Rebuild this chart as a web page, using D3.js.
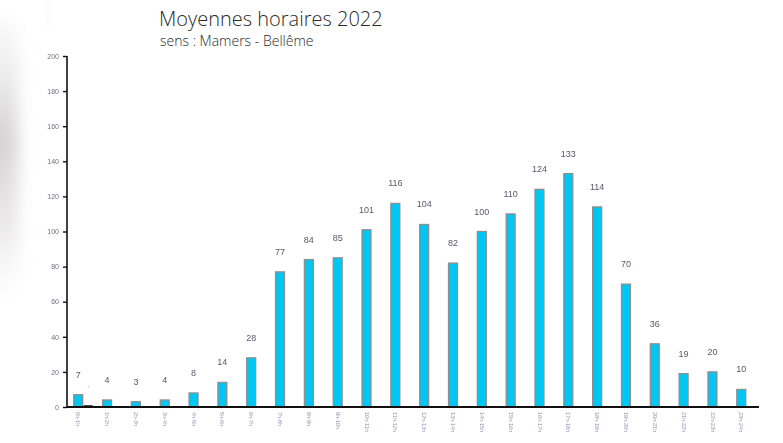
<!DOCTYPE html>
<html>
<head>
<meta charset="utf-8">
<script src="https://cdn.jsdelivr.net/npm/d3@7"></script>
<style>
  html, body { margin: 0; padding: 0; background: #fff; }
  svg { display: block; }
</style>
</head>
<body>
<svg id="chart" width="783" height="443"></svg>
<script>
// Hourly averages, direction Mamers -> Bellême
const hours = ["0h-1h","1h-2h","2h-3h","3h-4h","4h-5h","5h-6h","6h-7h","7h-8h","8h-9h","9h-10h","10h-11h","11h-12h",
               "12h-13h","13h-14h","14h-15h","15h-16h","16h-17h","17h-18h","18h-19h","19h-20h","20h-21h","21h-22h","22h-23h","23h-24h"];
const lightVehicles = [7, 4, 3, 4, 8, 14, 28, 77, 84, 85, 101, 116, 104, 82, 100, 110, 124, 133, 114, 70, 36, 19, 20, 10];
const heavyVehicles = [1, 0, 0, 0, 0, 0, 0, 0, 0, 0, 0, 0, 0, 0, 0, 0, 0, 0, 0, 0, 0, 0, 0, 0];
const yTicks = [0, 20, 40, 60, 80, 100, 120, 140, 160, 180, 200];

const svg = d3.select("#chart");
const defs = svg.append("defs");

// soft page shadow on the left edge
const blur = defs.append("filter").attr("id", "soft").attr("x", "-50%").attr("y", "-50%").attr("width", "200%").attr("height", "200%");
blur.append("feGaussianBlur").attr("stdDeviation", 8);
const sg = defs.append("linearGradient").attr("id", "shade").attr("x1", 0).attr("y1", 0).attr("x2", 0).attr("y2", 1);
sg.append("stop").attr("offset", "0").attr("stop-color", "#d8d8d8").attr("stop-opacity", 0.15);
sg.append("stop").attr("offset", "0.4").attr("stop-color", "#bdb9b9").attr("stop-opacity", 0.65);
sg.append("stop").attr("offset", "0.7").attr("stop-color", "#cdc9c9").attr("stop-opacity", 0.4);
sg.append("stop").attr("offset", "1").attr("stop-color", "#ffffff").attr("stop-opacity", 0);
svg.append("rect").attr("x", -20).attr("y", 20).attr("width", 38).attr("height", 300)
  .attr("fill", "url(#shade)").attr("filter", "url(#soft)");
svg.append("rect").attr("x", 47).attr("y", -5).attr("width", 4).attr("height", 30)
  .attr("fill", "#e9e9e9").attr("filter", "url(#soft)").attr("opacity", 0.5);

// titles
svg.append("text").attr("x", 159).attr("y", 26)
  .attr("font-family", "'Open Sans', Lato, sans-serif").attr("font-size", 20).attr("font-weight", 300)
  .attr("fill", "#2a2a2a").text("Moyennes horaires 2022");
svg.append("text").attr("x", 160).attr("y", 46)
  .attr("font-family", "'Open Sans', Lato, sans-serif").attr("font-size", 14).attr("font-weight", 300)
  .attr("fill", "#2a2a2a").text("sens : Mamers - Bellême");

const axisLeftX = 67, axisRightX = 759;
const y = d3.scaleLinear().domain([0, 200]).range([407, 56]);
const x = d3.scaleBand().domain(hours).range([68, 751.5]).paddingInner(0.69).paddingOuter(0.2);

const g = svg.append("g");

// y axis
const yAxis = g.append("g").attr("transform", `translate(${axisLeftX},0)`)
  .call(d3.axisLeft(y).tickValues(yTicks).tickSize(4).tickPadding(4));
yAxis.select(".domain").attr("stroke", "#111").attr("stroke-width", 1.6).attr("d", `M0,${y(200)}V${y(0)}`);
yAxis.selectAll(".tick line").attr("stroke", "#111").attr("stroke-width", 1.4);
yAxis.selectAll(".tick text").attr("font-family", "Liberation Sans, Arial, sans-serif")
  .attr("font-size", 7).attr("fill", "#555570").attr("opacity", 0.85);

// bars
g.selectAll("rect.bar").data(lightVehicles).join("rect").attr("class", "bar")
  .attr("x", (d, i) => x(hours[i]))
  .attr("y", d => y(d))
  .attr("width", x.bandwidth())
  .attr("height", d => y(0) - y(d))
  .attr("fill", "#00c6f4").attr("stroke", "#8f8f8f").attr("stroke-width", 1.3);

g.selectAll("rect.hv").data(heavyVehicles).join("rect").attr("class", "hv")
  .attr("x", (d, i) => x(hours[i]) + x.bandwidth() + 1)
  .attr("y", d => y(d))
  .attr("width", x.bandwidth())
  .attr("height", d => y(0) - y(d))
  .attr("fill", "#111");

// value labels
g.selectAll("text.val").data(lightVehicles).join("text").attr("class", "val")
  .attr("x", (d, i) => x(hours[i]) + x.bandwidth() / 2)
  .attr("y", d => y(d) - 17)
  .attr("text-anchor", "middle")
  .attr("font-family", "Liberation Sans, Arial, sans-serif").attr("font-size", 9)
  .attr("fill", "#3a3a50").attr("opacity", 0.85)
  .text(d => d);

g.selectAll("text.hvval").data(heavyVehicles.filter(d => d > 0)).join("text").attr("class", "hvval")
  .attr("x", x(hours[0]) + x.bandwidth() * 1.5 + 1)
  .attr("y", d => y(d) - 17)
  .attr("text-anchor", "middle")
  .attr("font-family", "Liberation Sans, Arial, sans-serif").attr("font-size", 4)
  .attr("fill", "#8899cc").attr("opacity", 0.6)
  .text(d => d);

// x axis
const xAxis = g.append("g").attr("transform", `translate(0,${y(0)})`)
  .call(d3.axisBottom(x).tickSize(0).tickPadding(4));
xAxis.select(".domain").attr("stroke", "#111").attr("stroke-width", 1.8)
  .attr("d", `M${axisLeftX},0H${axisRightX}`);
xAxis.selectAll(".tick text")
  .attr("font-family", "Liberation Sans, Arial, sans-serif").attr("font-size", 5.5)
  .attr("fill", "#5a5a8a").attr("opacity", 0.7)
  .attr("transform", "rotate(90)")
  .attr("text-anchor", "start").attr("dy", "0.35em").attr("x", 5).attr("y", 0);
</script>
</body>
</html>
